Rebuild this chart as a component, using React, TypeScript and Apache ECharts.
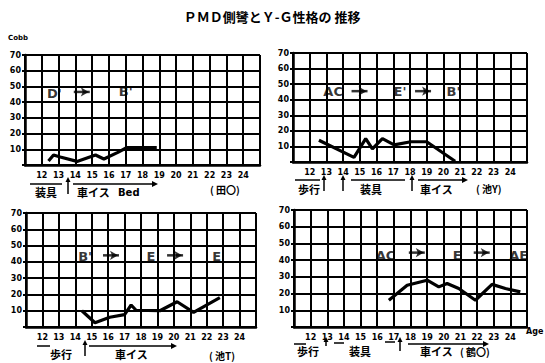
import React, { useEffect, useRef } from "react";
import * as echarts from "echarts";

const xMin = 11;
const xMax = 25;
const ageTickLabels = [12, 13, 14, 15, 16, 17, 18, 19, 20, 21, 22, 23, 24];
const cobbTickLabels = [10, 20, 30, 40, 50, 60, 70];

// Cobb angle per age (four patients)
const cobbTa: number[][] = [[12.4, 2.6], [12.7, 6.4], [13.1, 5.1], [14.1, 2.3], [15.2, 6.4], [15.7, 3.8], [16.5, 7.9], [17.05, 11], [18.85, 11]];
const cobbIkeY: number[][] = [[12.55, 14], [14.65, 3], [15.35, 15], [15.75, 8.5], [16.35, 15], [17.05, 11], [18.05, 13], [19.0, 13], [20.7, 0.5]];
const cobbIkeT: number[][] = [[14.4, 10], [15.2, 2.6], [16.1, 6], [17.0, 7.6], [17.4, 13.5], [17.7, 10.3], [19.15, 10], [20.2, 15.5], [21.2, 9], [22.8, 18]];
const cobbTsuru: number[][] = [[16.7, 16], [17.8, 25], [19.0, 28], [19.7, 24], [20.2, 26], [20.9, 23], [21.9, 16], [22.9, 25.5], [23.7, 23], [24.6, 21]];
const tsuruMarker: number[][] = [[19.0, 44], [19.0, 28.5]];

// Y-G personality type transitions [age, level, label]
const typesTa: (number | string)[][] = [[12.75, 45.5, "D'"], [17.0, 46.5, "B'"]];
const typesIkeY: (number | string)[][] = [[13.4, 45, "AC"], [17.4, 45, "E'"], [20.6, 45, "B'"]];
const typesIkeT: (number | string)[][] = [[14.6, 43, "B'"], [18.6, 43, "E"], [22.6, 43, "E"]];
const typesTsuru: (number | string)[][] = [[16.5, 43, "AC"], [20.8, 43, "E"], [24.5, 43, "AE"]];
// transition arrows [age, level]
const arrowsTa: number[][] = [[14.8, 46.5]];
const arrowsIkeY: number[][] = [[15.4, 45.5], [19.2, 45.5]];
const arrowsIkeT: number[][] = [[16.6, 44], [20.5, 44]];
const arrowsTsuru: number[][] = [[18.8, 44.5], [22.7, 44.5]];

const patientNames = ["( 田〇)", "( 池Y)", "( 池T)", "( 鶴〇)"];
const titleText = "ＰＭＤ側彎とＹ-Ｇ性格の 推移";

const JP = "'Noto Sans CJK JP', sans-serif";
const NUM = "'DejaVu Sans', sans-serif";

export default function App() {
  const ref = useRef<HTMLDivElement>(null);
  useEffect(() => {
    document.body.style.margin = "0";
    if (!ref.current) return;
    const chart = echarts.init(ref.current, null, { renderer: "svg" });

    const grids = [
      { left: 25, top: 55, width: 235, height: 110 },
      { left: 293, top: 53, width: 234, height: 109 },
      { left: 26, top: 213, width: 230, height: 114 },
      { left: 294, top: 210, width: 233, height: 117 },
    ];
    const cobbs = [cobbTa, cobbIkeY, cobbIkeT, cobbTsuru];
    const types = [typesTa, typesIkeY, typesIkeT, typesTsuru];
    const arrows = [arrowsTa, arrowsIkeY, arrowsIkeT, arrowsTsuru];

    const xAxis = grids.map((_, i) => ({
      type: "value",
      gridIndex: i,
      min: xMin,
      max: xMax,
      interval: 1,
      axisLine: { show: true, lineStyle: { color: "#000", width: 2.5 } },
      axisTick: { show: false },
      splitLine: { show: true, lineStyle: { color: "#000", width: 2 } },
      axisLabel: {
        color: "#000",
        fontSize: 8,
        fontWeight: "bold",
        fontFamily: NUM,
        margin: 6,
        formatter: (v: number) => (ageTickLabels.indexOf(v) >= 0 ? String(v) : ""),
      },
    }));
    const yAxis = grids.map((_, i) => ({
      type: "value",
      gridIndex: i,
      min: 0,
      max: 70,
      interval: 10,
      axisLine: { show: true, lineStyle: { color: "#000", width: 2.5 } },
      axisTick: { show: true, length: 3, lineStyle: { color: "#000", width: 2 } },
      splitLine: { show: true, lineStyle: { color: "#000", width: 2 } },
      axisLabel: {
        color: "#000",
        fontSize: 8,
        fontWeight: "bold",
        fontFamily: NUM,
        margin: 4,
        formatter: (v: number) => (cobbTickLabels.indexOf(v) >= 0 ? String(v) : ""),
      },
    }));

    const series: any[] = [];
    cobbs.forEach((d, i) => {
      series.push({
        type: "line",
        xAxisIndex: i,
        yAxisIndex: i,
        data: d,
        symbol: "none",
        lineStyle: { color: "#000", width: 3.2 },
        z: 5,
      });
    });
    series.push({
      type: "line",
      xAxisIndex: 3,
      yAxisIndex: 3,
      data: tsuruMarker,
      symbol: "none",
      lineStyle: { color: "#000", width: 1.8 },
    });
    types.forEach((d, i) => {
      series.push({
        type: "scatter",
        xAxisIndex: i,
        yAxisIndex: i,
        data: d,
        symbolSize: 1,
        itemStyle: { color: "rgba(0,0,0,0)" },
        z: 6,
        label: {
          show: true,
          position: "inside",
          formatter: (p: any) => p.data[2],
          color: "#000",
          fontWeight: "bold",
          fontFamily: NUM,
          fontSize: 13,
        },
      });
    });
    arrows.forEach((d, i) => {
      series.push({
        type: "scatter",
        xAxisIndex: i,
        yAxisIndex: i,
        data: d,
        symbol: "arrow",
        symbolSize: [7, 8],
        symbolRotate: -90,
        symbolOffset: [0, 0],
        itemStyle: { color: "#000" },
        z: 6,
      });
      series.push({
        type: "scatter",
        xAxisIndex: i,
        yAxisIndex: i,
        data: d,
        symbol: "rect",
        symbolSize: [16, 2.5],
        symbolOffset: [-7, 0],
        itemStyle: { color: "#000" },
        z: 6,
      });
    });

    const txt = (x: number, y: number, text: string, size = 11, align = "left"): any => ({
      type: "text",
      x,
      y,
      style: { text, fontSize: size, fontWeight: "bold", fontFamily: JP, fill: "#000", align, verticalAlign: "middle" },
    });
    const hline = (x1: number, x2: number, y: number, arrow = false): any[] => {
      const els: any[] = [
        { type: "line", shape: { x1, y1: y, x2: arrow ? x2 - 3 : x2, y2: y }, style: { stroke: "#000", lineWidth: 1.5 } },
      ];
      if (arrow)
        els.push({ type: "polygon", shape: { points: [[x2 - 6, y - 3], [x2, y], [x2 - 6, y + 3]] }, style: { fill: "#000" } });
      return els;
    };
    const upArrow = (x: number, yBottom: number, yTop: number): any[] => [
      { type: "line", shape: { x1: x, y1: yBottom, x2: x, y2: yTop + 3 }, style: { stroke: "#000", lineWidth: 1.5 } },
      { type: "polygon", shape: { points: [[x - 2.5, yTop + 5], [x, yTop], [x + 2.5, yTop + 5]] }, style: { fill: "#000" } },
    ];

    const graphic: any[] = [
      txt(272, 16, titleText, 13, "center"),
      { type: "text", x: 8, y: 38, style: { text: "Cobb", fontSize: 7, fontWeight: "bold", fontFamily: NUM, fill: "#000", verticalAlign: "middle" } },
      { type: "text", x: 526, y: 331, style: { text: "Age", fontSize: 8, fontWeight: "bold", fontFamily: NUM, fill: "#000", verticalAlign: "middle" } },
      // panel 1 timeline
      ...hline(30, 62, 184),
      txt(35, 192, "装具"),
      ...upArrow(68, 194, 177),
      ...hline(73, 158, 184, true),
      txt(77, 192, "車イス"),
      { type: "text", x: 118, y: 192, style: { text: "Bed", fontSize: 10, fontWeight: "bold", fontFamily: NUM, fill: "#000", verticalAlign: "middle" } },
      txt(210, 189, patientNames[0], 10),
      // panel 2 timeline
      ...hline(295, 320, 180),
      txt(298, 189, "歩行"),
      ...upArrow(324, 191, 175),
      ...upArrow(343, 191, 175),
      ...hline(351, 405, 180),
      txt(360, 189, "装具"),
      ...upArrow(412, 191, 175),
      ...hline(418, 468, 180, true),
      txt(420, 189, "車イス"),
      txt(476, 188, patientNames[1], 10),
      // panel 3 timeline
      ...hline(37, 50, 346),
      txt(50, 354, "歩行"),
      ...upArrow(85, 356, 340),
      ...hline(89, 177, 346, true),
      txt(115, 354, "車イス"),
      txt(209, 355, patientNames[2], 10),
      // panel 4 timeline
      ...hline(294, 306, 344),
      txt(297, 351, "歩行"),
      ...upArrow(326, 346, 337),
      ...hline(334, 344, 343),
      txt(349, 351, "装具"),
      ...hline(385, 395, 342),
      ...upArrow(400, 351, 337),
      ...hline(408, 489, 344, true),
      txt(420, 351, "車イス"),
      txt(460, 351, patientNames[3], 10),
    ];

    chart.setOption({
      animation: false,
      backgroundColor: "#fff",
      grid: grids,
      xAxis,
      yAxis,
      series,
      graphic,
    });
    return () => chart.dispose();
  }, []);
  return <div ref={ref} style={{ width: 545, height: 363 }} />;
}
